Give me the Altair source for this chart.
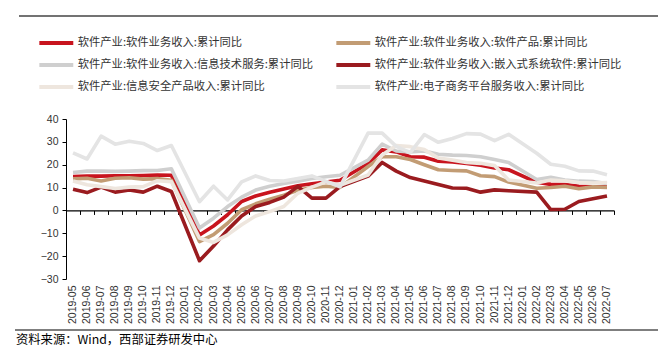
import altair as alt
import pandas as pd

months = [
    "2019-05", "2019-06", "2019-07", "2019-08", "2019-09", "2019-10", "2019-11", "2019-12",
    "2020-01", "2020-02", "2020-03", "2020-04", "2020-05", "2020-06", "2020-07", "2020-08",
    "2020-09", "2020-10", "2020-11", "2020-12", "2021-01", "2021-02", "2021-03", "2021-04",
    "2021-05", "2021-06", "2021-07", "2021-08", "2021-09", "2021-10", "2021-11", "2021-12",
    "2022-01", "2022-02", "2022-03", "2022-04", "2022-05", "2022-06", "2022-07",
]

series_names = [
    "软件产业:软件业务收入:累计同比",
    "软件产业:软件业务收入:软件产品:累计同比",
    "软件产业:软件业务收入:信息技术服务:累计同比",
    "软件产业:软件业务收入:嵌入式系统软件:累计同比",
    "软件产业:信息安全产品收入:累计同比",
    "软件产业:电子商务平台服务收入:累计同比",
]
colors = ["#C8141E", "#C29C74", "#CFCFCF", "#9A1B1F", "#EEE6DE", "#E4E4E4"]

# None = January (no separate release; line connects Dec -> Feb)
software_revenue = [
    14.8, 15.0, 15.0, 15.2, 15.2, 15.3, 15.5, 15.4,
    None, -10.8, -6.8, -1.9, 3.9, 6.3, 8.0, 9.4,
    10.8, 11.7, 12.4, 13.2, None, 20.5, 26.5, 25.6,
    23.5, 23.3, 21.5, 21.2, 20.6, 19.8, 18.6, 17.8,
    None, 12.3, 11.4, 11.3, 10.6, 10.3, 10.3,
]
software_products = [
    13.8, 14.1, 12.9, 14.1, 14.3, 13.7, 13.9, 13.2,
    None, -13.6, -10.6, -5.6, 0.3, 2.9, 4.9, 6.7,
    8.8, 10.0, 10.6, 10.1, None, 19.2, 23.5, 23.5,
    22.3, 20.0, 17.8, 17.5, 17.3, 15.2, 14.8, 12.4,
    None, 9.7, 10.0, 10.6, 9.5, 10.3, 10.1,
]
it_services = [
    16.6, 17.2, 17.2, 17.1, 17.2, 17.4, 17.5, 18.2,
    None, -7.7, -3.4, 1.7, 5.8, 8.9, 10.6, 11.8,
    12.8, 14.0, 14.7, 15.4, None, 22.0, 29.0, 26.0,
    25.6, 26.0, 24.6, 24.2, 24.0, 23.5, 22.3, 21.0,
    None, 13.5, 14.5, 13.3, 12.8, 12.6, 11.8,
]
embedded_software = [
    9.3, 7.8, 10.2, 8.0, 8.9, 8.0, 10.6, 8.3,
    None, -22.0, -15.6, -8.5, -2.4, 1.7, 3.5, 5.8,
    10.5, 5.4, 5.4, 10.4, None, 15.0, 21.0, 17.2,
    14.4, 12.9, 11.3, 9.8, 9.7, 8.0, 9.0, 8.6,
    None, 8.0, 0.4, 0.5, 3.9, 5.1, 6.3,
]
info_security = [
    12.9, 11.2, 10.4, 9.6, 10.2, 10.4, 13.0, 12.6,
    None, -12.1, -14.0, -10.7, -6.3, -2.4, -0.5, 1.7,
    7.5, 10.2, 12.5, 11.0, None, 15.5, 24.3, 28.4,
    27.9, 26.6, 22.9, 22.0, 21.0, 20.6, 19.6, 13.3,
    None, 12.0, 13.3, 13.0, 12.2, 12.0, 12.2,
]
ecommerce_platform = [
    25.2, 22.5, 32.5, 29.0, 30.3, 29.3, 26.2, 28.4,
    None, 3.8, 10.6, 4.6, 12.5, 15.1, 13.1, 12.9,
    14.0, 15.1, 12.7, 10.3, None, 33.8, 33.8, 28.0,
    25.3, 33.2, 29.8, 31.5, 33.6, 33.4, 30.5, 33.3,
    None, 25.0, 20.2, 19.3, 17.3, 17.2, 15.6,
]

all_values = [software_revenue, software_products, it_services,
              embedded_software, info_security, ecommerce_platform]

rows = []
for order, (name, vals) in enumerate(zip(series_names, all_values)):
    for m, v in zip(months, vals):
        if v is not None:
            rows.append({"month": m, "value": v, "series": name, "order": order})
df = pd.DataFrame(rows)

# legend fills column by column: list so that it reads row by row like the original
legend_order = [0, 2, 4, 1, 3, 5]
legend_domain = [series_names[i] for i in legend_order]
legend_range = [colors[i] for i in legend_order]

W, H = 548, 160
y_min, y_max = -30, 40
zero_offset = H * y_max / (y_max - y_min) - H  # move tick axis up to the zero line

xscale = alt.Scale(type="band", domain=months, paddingInner=0, paddingOuter=0)

label_axis = alt.Axis(
    title=None, orient="bottom", labelAngle=270, labelAlign="right", labelBaseline="middle",
    labelFont="Liberation Sans", labelFontSize=10.5, labelColor="#333333",
    ticks=False, domain=False, labelPadding=6, labelOverlap=False, grid=False,
)
tick_axis = alt.Axis(
    title=None, orient="bottom", labels=False, offset=zero_offset, tickBand="extent",
    tickSize=4, tickColor="#000000", tickWidth=1, domainColor="#000000", domainWidth=1.2,
    grid=False,
)

lines = alt.Chart(df).mark_line(strokeWidth=3.6, strokeJoin="round").encode(
    x=alt.X("month:O", scale=xscale, axis=label_axis, bandPosition=0.5),
    y=alt.Y(
        "value:Q",
        scale=alt.Scale(domain=[y_min, y_max], nice=False, zero=False),
        axis=alt.Axis(
            values=list(range(-30, 41, 10)), title=None, grid=False, tickSize=4,
            tickColor="#000000", domainColor="#000000", labelFont="Liberation Sans",
            labelFontSize=10.5, labelColor="#333333", labelPadding=4,
        ),
    ),
    color=alt.Color(
        "series:N",
        scale=alt.Scale(domain=legend_domain, range=legend_range),
        legend=alt.Legend(
            title=None, orient="none", legendX=-29, legendY=-84, columns=2,
            symbolType="M-1,0H5", symbolSize=128, symbolStrokeWidth=4,
            labelFont="Noto Sans CJK SC", labelFontSize=11.3, labelColor="#333333",
            labelOffset=24.7, labelLimit=400, rowPadding=6, columnPadding=14, padding=0,
        ),
    ),
    order=alt.Order("order:Q"),
)

ghost = alt.Chart(df).mark_point(opacity=0).encode(
    x=alt.X("month:O", scale=xscale, axis=tick_axis),
)

frame = alt.Chart(pd.DataFrame({"k": [0]}))
header_rule = frame.mark_rule(color="#444444", strokeWidth=1.5).encode(
    x=alt.value(-47), x2=alt.value(592), y=alt.value(-103)
)
footer_rule = frame.mark_rule(color="#555555", strokeWidth=1.3).encode(
    x=alt.value(-51), x2=alt.value(592), y=alt.value(211)
)
footer_text = frame.mark_text(
    text="资料来源：Wind，西部证券研发中心", align="left", baseline="middle",
    font="Noto Sans CJK SC", fontSize=12.3, color="#000000",
).encode(x=alt.value(-50), y=alt.value(221))

chart = alt.layer(lines, ghost, header_rule, footer_rule, footer_text).resolve_axis(
    x="independent"
).properties(
    width=W, height=H,
    autosize=alt.AutoSizeParams(type="none"),
    padding={"left": 58, "top": 111, "right": 44, "bottom": 69},
).configure_view(stroke=None)

chart.save("out.html", embed_options={"renderer": "svg", "actions": False})
